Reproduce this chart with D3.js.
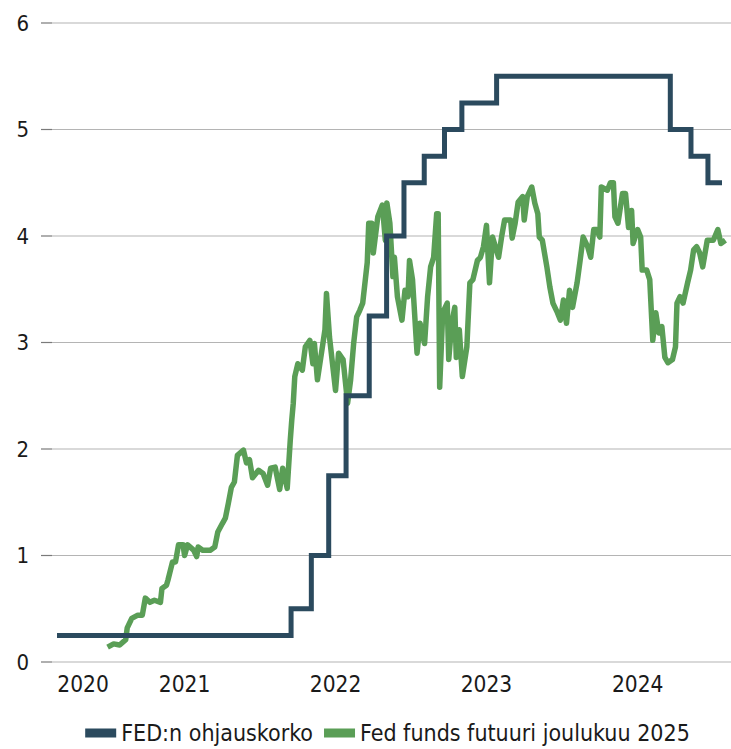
<!DOCTYPE html>
<html>
<head>
<meta charset="utf-8">
<script src="https://cdn.jsdelivr.net/npm/d3@7"></script>
<style>
  body { margin: 0; background: #fff; }
  text { font-family: "DejaVu Sans Condensed", "Liberation Sans Narrow", "Roboto", sans-serif; fill: #1a1a1a; }
</style>
</head>
<body>
<div class="canvas"></div>
<script>
const WIDTH = 731, HEIGHT = 749;

// FED policy rate steps (date, rate)
const rateDates = ['2020-08-28', '2022-03-17', '2022-05-05', '2022-06-16', '2022-07-28', '2022-09-22',
  '2022-11-03', '2022-12-15', '2023-02-02', '2023-03-23', '2023-05-04', '2023-07-27',
  '2024-09-19', '2024-11-08', '2024-12-19', '2025-01-22'];
const rateValues = [0.25, 0.5, 1.0, 1.75, 2.5, 3.25, 4.0, 4.5, 4.75, 5.0, 5.25, 5.5, 5.0, 4.75, 4.5, 4.5];

// Fed funds futures Dec 2025 (decimal year, implied rate)
const futYear = [2020.99, 2021.03, 2021.07, 2021.11, 2021.12, 2021.15, 2021.19, 2021.22, 2021.24, 2021.27,
  2021.30, 2021.34, 2021.35, 2021.38, 2021.39, 2021.42, 2021.44, 2021.46, 2021.49, 2021.50,
  2021.52, 2021.56, 2021.58, 2021.59, 2021.62, 2021.67, 2021.70, 2021.72, 2021.75, 2021.77,
  2021.79, 2021.81, 2021.83, 2021.85, 2021.89, 2021.91, 2021.93, 2021.95, 2021.99, 2022.02,
  2022.05, 2022.07, 2022.10, 2022.13, 2022.15, 2022.18, 2022.20, 2022.21, 2022.22, 2022.23,
  2022.25, 2022.28, 2022.30, 2022.33, 2022.35, 2022.36, 2022.38, 2022.41, 2022.43, 2022.44,
  2022.46, 2022.48, 2022.50, 2022.52, 2022.55, 2022.58, 2022.60, 2022.62, 2022.64, 2022.66,
  2022.68, 2022.71, 2022.72, 2022.74, 2022.75, 2022.78, 2022.81, 2022.83, 2022.84, 2022.86,
  2022.88, 2022.89, 2022.91, 2022.94, 2022.96, 2022.98, 2022.99, 2023.01, 2023.04, 2023.06,
  2023.08, 2023.09, 2023.11, 2023.13, 2023.15, 2023.17, 2023.18, 2023.19, 2023.21, 2023.24,
  2023.25, 2023.27, 2023.29, 2023.30, 2023.32, 2023.34, 2023.37, 2023.39, 2023.41, 2023.44,
  2023.46, 2023.48, 2023.50, 2023.52, 2023.54, 2023.58, 2023.60, 2023.62, 2023.66, 2023.67,
  2023.69, 2023.71, 2023.74, 2023.75, 2023.77, 2023.80, 2023.82, 2023.84, 2023.85, 2023.87,
  2023.90, 2023.92, 2023.94, 2023.97, 2023.99, 2024.01, 2024.03, 2024.05, 2024.07, 2024.10,
  2024.12, 2024.14, 2024.17, 2024.19, 2024.21, 2024.23, 2024.25, 2024.26, 2024.30, 2024.32,
  2024.34, 2024.35, 2024.37, 2024.40, 2024.42, 2024.44, 2024.46, 2024.47, 2024.50, 2024.52,
  2024.53, 2024.56, 2024.58, 2024.60, 2024.62, 2024.64, 2024.66, 2024.68, 2024.70, 2024.73,
  2024.75, 2024.76, 2024.78, 2024.80, 2024.83, 2024.85, 2024.87, 2024.89, 2024.91, 2024.93,
  2024.96, 2024.98, 2025.00, 2025.03, 2025.05, 2025.08];
const futValue = [0.14, 0.17, 0.16, 0.21, 0.32, 0.41, 0.44, 0.44, 0.60, 0.56,
  0.58, 0.56, 0.69, 0.72, 0.77, 0.94, 0.94, 1.10, 1.10, 1.00,
  1.10, 1.05, 0.99, 1.08, 1.05, 1.05, 1.08, 1.22, 1.30, 1.35,
  1.49, 1.64, 1.69, 1.94, 1.99, 1.87, 1.90, 1.73, 1.80, 1.77,
  1.66, 1.82, 1.83, 1.62, 1.82, 1.63, 2.08, 2.27, 2.43, 2.68,
  2.80, 2.74, 2.96, 3.02, 2.80, 2.99, 2.65, 2.93, 3.12, 3.46,
  3.05, 2.80, 2.55, 2.90, 2.84, 2.43, 2.65, 2.99, 3.24, 3.30,
  3.37, 3.75, 4.12, 4.12, 3.84, 4.18, 4.29, 3.96, 4.31, 4.12,
  3.62, 3.80, 3.43, 3.21, 3.49, 3.43, 3.77, 3.59, 2.90, 3.18,
  3.05, 2.99, 3.43, 3.71, 3.80, 4.21, 4.21, 2.58, 3.28, 3.37,
  2.84, 3.18, 3.33, 2.86, 3.12, 2.68, 2.96, 3.56, 3.59, 3.77,
  3.80, 3.90, 4.10, 3.56, 3.99, 3.80, 3.99, 4.15, 4.15, 3.98,
  4.12, 4.32, 4.37, 4.15, 4.37, 4.46, 4.31, 4.21, 3.99, 3.96,
  3.71, 3.52, 3.37, 3.28, 3.21, 3.40, 3.18, 3.49, 3.33, 3.56,
  3.77, 3.99, 3.90, 3.80, 4.06, 4.06, 3.99, 4.46, 4.43, 4.50,
  4.50, 4.18, 4.12, 4.40, 4.40, 4.08, 4.24, 3.93, 4.06, 3.99,
  3.68, 3.68, 3.59, 3.02, 3.28, 3.09, 3.15, 2.86, 2.81, 2.84,
  2.96, 3.37, 3.43, 3.37, 3.56, 3.68, 3.87, 3.90, 3.84, 3.71,
  3.96, 3.96, 3.96, 4.06, 3.93, 3.96];

const yearLabels = ['2020', '2021', '2022', '2023', '2024'];
const yTicks = [0, 1, 2, 3, 4, 5, 6];
const seriesNames = ['FED:n ohjauskorko', 'Fed funds futuuri joulukuu 2025'];
const COLORS = ['#2b4a5e', '#5a9e56'];

const parse = d3.timeParse('%Y-%m-%d');
function fromDecimal(t) {
  const y = Math.floor(t);
  const a = new Date(y, 0, 1), b = new Date(y + 1, 0, 1);
  return new Date(+a + (t - y) * (b - a));
}

const rate = rateDates.map((d, i) => ({ date: parse(d), value: rateValues[i] }));
const fut = futYear.map((t, i) => ({ date: fromDecimal(t), value: futValue[i] }));

const svg = d3.select('.canvas').append('svg')
  .attr('width', WIDTH)
  .attr('height', HEIGHT);

//scales
const x = d3.scaleTime()
  .domain(d3.extent(rate, d => d.date))
  .range([57, 722]);
const y = d3.scaleLinear().domain([0, 6]).range([662, 23]);

//grid + y labels
const yAxis = svg.append('g').attr('class', 'y-axis');
yAxis.selectAll('line.grid').data(yTicks).join('line')
  .attr('class', 'grid')
  .attr('x1', 52).attr('x2', WIDTH)
  .attr('y1', d => y(d)).attr('y2', d => y(d))
  .attr('stroke', '#b4b4b4').attr('stroke-width', 1.2);
yAxis.selectAll('line.tick').data(yTicks).join('line')
  .attr('class', 'tick')
  .attr('x1', 41).attr('x2', 52)
  .attr('y1', d => y(d)).attr('y2', d => y(d))
  .attr('stroke', '#7a7a7a').attr('stroke-width', 1.2);
yAxis.selectAll('text').data(yTicks).join('text')
  .attr('x', 29).attr('y', d => y(d))
  .attr('dy', '0.36em')
  .attr('text-anchor', 'end')
  .style('font-size', '22px')
  .text(d => d);

//x labels centred on the visible part of each year
const [x0, x1] = x.domain();
svg.append('g').attr('class', 'x-axis')
  .selectAll('text').data(yearLabels).join('text')
  .attr('x', d => {
    const a = d3.max([x0, new Date(+d, 0, 1)]);
    const b = d3.min([x1, new Date(+d + 1, 0, 1)]);
    return (x(a) + x(b)) / 2;
  })
  .attr('y', 692)
  .attr('text-anchor', 'middle')
  .style('font-size', '22.5px')
  .text(d => d);

//lines
const line = d3.line()
  .x(d => x(d.date))
  .y(d => y(d.value));

svg.append('path')
  .datum(fut)
  .attr('fill', 'none')
  .attr('stroke', COLORS[1])
  .attr('stroke-width', 5.5)
  .attr('stroke-linejoin', 'round')
  .attr('d', line);

svg.append('path')
  .datum(rate)
  .attr('fill', 'none')
  .attr('stroke', COLORS[0])
  .attr('stroke-width', 5)
  .attr('d', line.curve(d3.curveStepAfter));

//legend
const legend = svg.append('g').attr('class', 'legend');
const items = legend.selectAll('g').data(seriesNames).join('g');
items.append('rect')
  .attr('width', 31).attr('height', 9)
  .attr('y', -4.5)
  .attr('fill', (d, i) => COLORS[i]);
items.append('text')
  .attr('x', 36).attr('dy', '0.36em')
  .style('font-size', '23px')
  .text(d => d);
let off = 0;
items.each(function() {
  d3.select(this).attr('transform', `translate(${off}, 0)`);
  off += this.getBBox().width + 11;
});
legend.attr('transform', `translate(${(WIDTH - (off - 11)) / 2 + 22}, 733)`);
</script>
</body>
</html>
